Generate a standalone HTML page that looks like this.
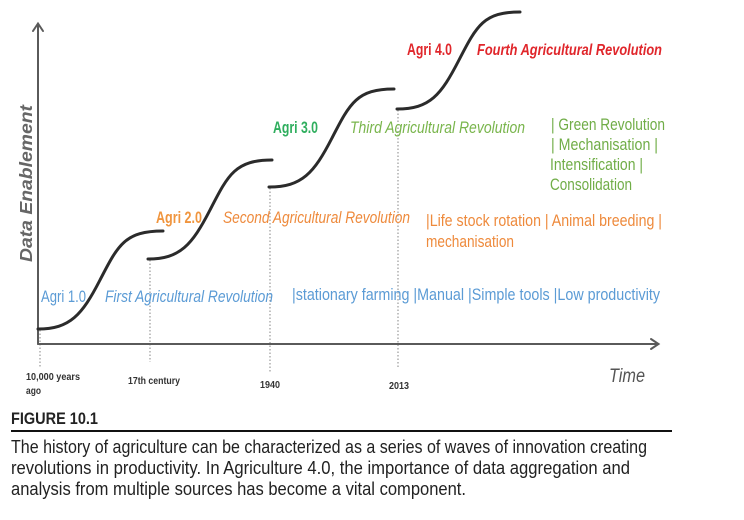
<!DOCTYPE html>
<html>
<head>
<meta charset="utf-8">
<style>
html,body{margin:0;padding:0;background:#fff;}
svg{display:block;}
text{font-family:"Liberation Sans",sans-serif;}
</style>
</head>
<body>
<svg width="744" height="520" viewBox="0 0 744 520" xmlns="http://www.w3.org/2000/svg">
<rect width="744" height="520" fill="#fff"/>

<!-- dotted guide lines -->
<g stroke="#9a9a9a" stroke-width="1.2" stroke-dasharray="1.5,2" fill="none">
  <line x1="40" y1="330" x2="40" y2="368"/>
  <line x1="150" y1="260" x2="150" y2="362"/>
  <line x1="270" y1="188" x2="270" y2="372"/>
  <line x1="398" y1="110" x2="398" y2="368"/>
</g>

<!-- axes -->
<g stroke="#5a5a5a" stroke-width="2" fill="none" stroke-linecap="round">
  <line x1="38" y1="344" x2="38" y2="24"/>
  <polyline points="33,31 38,23.5 43,31"/>
  <line x1="38" y1="344" x2="658" y2="344"/>
  <polyline points="651,339 658.5,344 651,349"/>
</g>

<!-- curves -->
<g stroke="#2b2b2b" stroke-width="3" fill="none" stroke-linecap="round">
  <path d="M38,329 C70,329 82,315 100,280 C118,245 125,231 163,231"/>
  <path d="M148,259 C180,259 192,245 210,210 C228,175 235,160 272,160"/>
  <path d="M269,187 C302,187 314,173 332,138 C350,103 357,89 394,89"/>
  <path d="M397,109 C430,109 441,95 459,60 C477,25 484,12 520,12"/>
</g>

<!-- y axis label -->
<text transform="translate(32,262) rotate(-90)" font-size="17.5" font-weight="bold" font-style="italic" fill="#666" textLength="157" lengthAdjust="spacingAndGlyphs">Data Enablement</text>

<!-- Agri 4.0 -->
<text x="407" y="55" font-size="16.5" font-weight="bold" fill="#e0262b" textLength="45" lengthAdjust="spacingAndGlyphs">Agri 4.0</text>
<text x="477" y="55" font-size="16" font-weight="bold" font-style="italic" fill="#e0262b" textLength="185" lengthAdjust="spacingAndGlyphs">Fourth Agricultural Revolution</text>

<!-- Agri 3.0 -->
<text x="273" y="133" font-size="16.5" font-weight="bold" fill="#2fae5e" textLength="45" lengthAdjust="spacingAndGlyphs">Agri 3.0</text>
<text x="350" y="133" font-size="16.5" font-style="italic" fill="#79b54c" textLength="175" lengthAdjust="spacingAndGlyphs">Third Agricultural Revolution</text>
<g font-size="16.5" fill="#70ad47">
  <text x="551" y="130" textLength="114" lengthAdjust="spacingAndGlyphs">| Green Revolution</text>
  <text x="551" y="150" textLength="107" lengthAdjust="spacingAndGlyphs">| Mechanisation |</text>
  <text x="550" y="170" textLength="93" lengthAdjust="spacingAndGlyphs">Intensification |</text>
  <text x="550" y="190" textLength="82" lengthAdjust="spacingAndGlyphs">Consolidation</text>
</g>

<!-- Agri 2.0 -->
<text x="156" y="223" font-size="16.5" font-weight="bold" fill="#f0953e" textLength="46" lengthAdjust="spacingAndGlyphs">Agri 2.0</text>
<text x="223" y="223" font-size="16.5" font-style="italic" fill="#ee8a3c" textLength="187" lengthAdjust="spacingAndGlyphs">Second Agricultural Revolution</text>
<g font-size="16.5" fill="#ee8a3c">
  <text x="426" y="226" textLength="236" lengthAdjust="spacingAndGlyphs">|Life stock rotation | Animal breeding |</text>
  <text x="426" y="247" textLength="88" lengthAdjust="spacingAndGlyphs">mechanisation</text>
</g>

<!-- Agri 1.0 -->
<text x="41" y="302" font-size="16.5" fill="#5b9bd5" textLength="45" lengthAdjust="spacingAndGlyphs">Agri 1.0</text>
<text x="105" y="302" font-size="16.5" font-style="italic" fill="#5b9bd5" textLength="168" lengthAdjust="spacingAndGlyphs">First Agricultural Revolution</text>
<text x="292" y="300" font-size="16.5" fill="#5b9bd5" textLength="368" lengthAdjust="spacingAndGlyphs">|stationary farming |Manual |Simple tools |Low productivity</text>

<!-- x axis labels -->
<g font-size="10" font-weight="bold" fill="#333">
  <text x="26" y="380" textLength="54" lengthAdjust="spacingAndGlyphs">10,000 years</text>
  <text x="26" y="394" textLength="15" lengthAdjust="spacingAndGlyphs">ago</text>
  <text x="128" y="384" textLength="52" lengthAdjust="spacingAndGlyphs">17th century</text>
  <text x="260" y="388" textLength="20" lengthAdjust="spacingAndGlyphs">1940</text>
  <text x="389" y="389" textLength="20" lengthAdjust="spacingAndGlyphs">2013</text>
</g>
<text x="609" y="382" font-size="19" font-style="italic" fill="#555" textLength="36" lengthAdjust="spacingAndGlyphs">Time</text>

<!-- caption -->
<text x="11" y="424" font-size="17" font-weight="bold" fill="#222" textLength="87" lengthAdjust="spacingAndGlyphs">FIGURE 10.1</text>
<line x1="11" y1="431" x2="672" y2="431" stroke="#111" stroke-width="2"/>
<g font-size="18" fill="#222">
  <text x="11" y="453" textLength="636" lengthAdjust="spacingAndGlyphs">The history of agriculture can be characterized as a series of waves of innovation creating</text>
  <text x="11" y="474" textLength="619" lengthAdjust="spacingAndGlyphs">revolutions in productivity. In Agriculture 4.0, the importance of data aggregation and</text>
  <text x="11" y="495" textLength="455" lengthAdjust="spacingAndGlyphs">analysis from multiple sources has become a vital component.</text>
</g>
</svg>
</body>
</html>
